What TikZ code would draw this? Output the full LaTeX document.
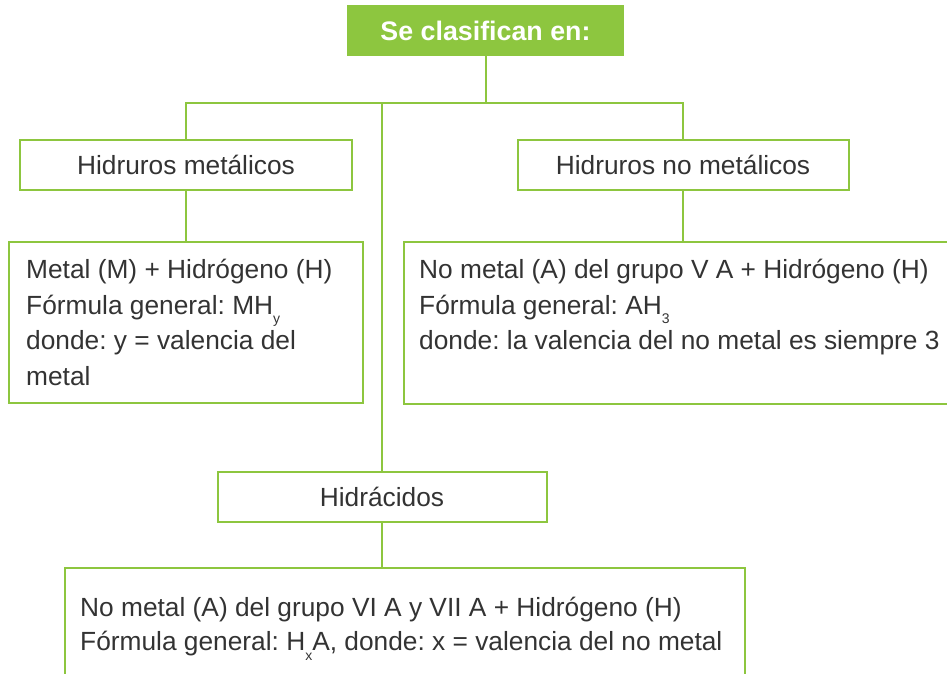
\documentclass[tikz,border=0pt]{standalone}
\usepackage{fontspec}
\setmainfont{Liberation Sans}
\frenchspacing
\definecolor{lgreen}{HTML}{8DC63F}
\definecolor{txt}{HTML}{333333}
\newcommand{\lowsub}[1]{\raisebox{-0.7ex}{\fontsize{14}{14}\selectfont #1}}
\begin{document}
\begin{tikzpicture}[x=1pt,y=-1pt,
  box/.style={draw=lgreen, line width=2pt, inner sep=0pt, text=txt, font=\fontsize{26.3}{30}\selectfont},
  ln/.style={draw=lgreen, line width=2pt},
  body/.style={inner sep=0pt, anchor=north west, align=left, text=txt, font=\fontsize{26.3}{35.5}\selectfont}]
\useasboundingbox (0,0) rectangle (947,674);
% boxes
\node[box, fill=lgreen, minimum width=275pt, minimum height=49pt, text=white, font=\fontsize{26.8}{30}\selectfont\bfseries] (top) at (485.5,30.5) {Se clasifican en:};
\node[box, minimum width=332pt, minimum height=50pt] (hm) at (186,165) {Hidruros metálicos};
\node[box, minimum width=331pt, minimum height=50pt] (hnm) at (683,165) {Hidruros no metálicos};
\node[box, minimum width=354pt, minimum height=161pt] (dl) at (186,322.5) {};
\node[box, minimum width=558pt, minimum height=162pt] (dr) at (683,323) {};
\node[box, minimum width=329pt, minimum height=50pt] (hc) at (382,497) {Hidrácidos};
\node[box, minimum width=680pt, minimum height=132pt] (db) at (405,634) {};
% texts
\node[body] (tl) at (26,259) {Metal (M) + Hidrógeno (H)\\Fórmula general: MH\lowsub{y}\\donde: y = valencia del\\metal};
\node[body] (tr) at (419,259) {No metal (A) del grupo V A + Hidrógeno (H)\\Fórmula general: AH\lowsub{3}\\donde: la valencia del no metal es siempre 3};
\node[body, font=\fontsize{26.3}{34}\selectfont] (tb) at (80,597) {No metal (A) del grupo VI A y VII A + Hidrógeno (H)\\Fórmula general: H\lowsub{x}A, donde: x = valencia del no metal};
% connectors
\coordinate (bar) at (0,103);
\draw[ln] (top.south) -- (top.south |- bar);
\draw[ln] (hm.north) -- (hm.north |- bar) -- (hnm.north |- bar) -- (hnm.north);
\draw[ln] (hc.north) -- (hc.north |- bar);
\draw[ln] (hm.south) -- (dl.north);
\draw[ln] (hnm.south) -- (hnm.south |- dr.north);
\draw[ln] (hc.south) -- (db.north -| hc.south);
\end{tikzpicture}
\end{document}
